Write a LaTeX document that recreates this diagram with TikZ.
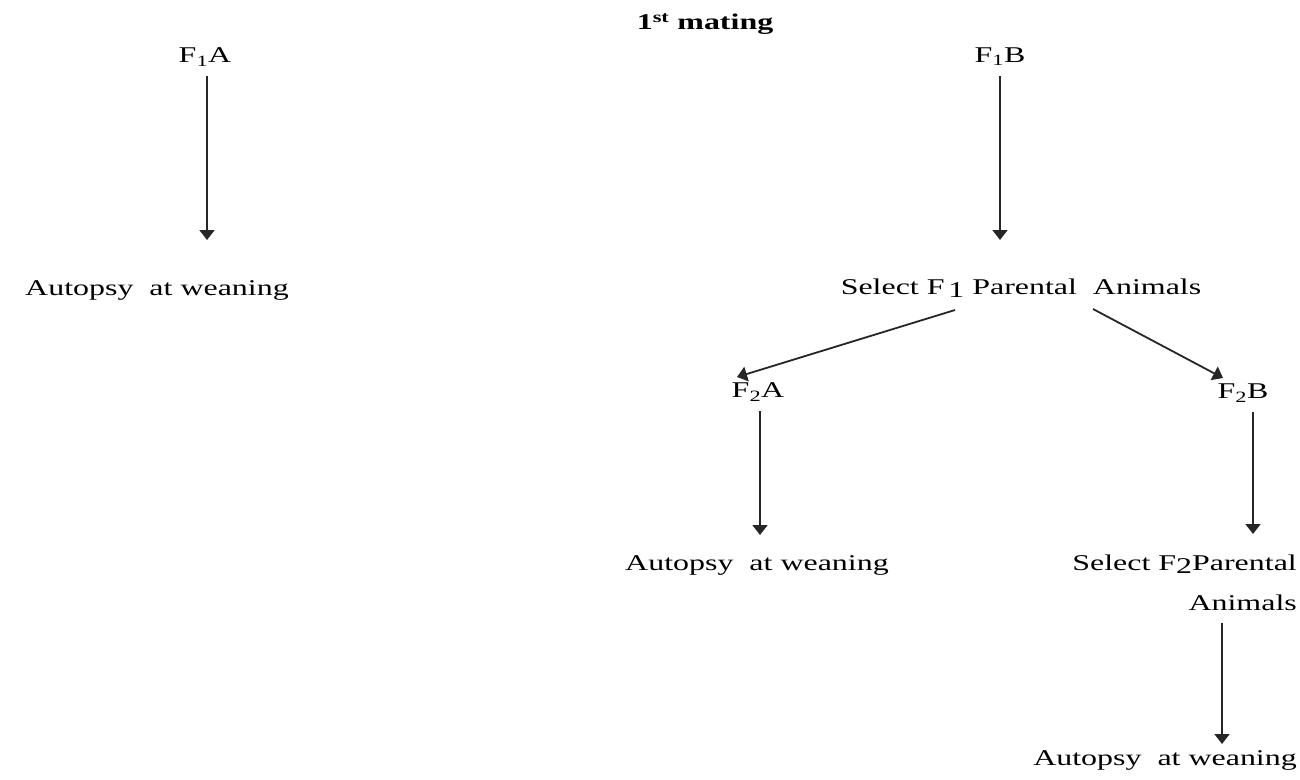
\documentclass[tikz,border=0pt]{standalone}
\usepackage{fontspec}
\setmainfont[FakeStretch=1.42]{Liberation Serif}
\usetikzlibrary{arrows.meta}
\begin{document}
\begin{tikzpicture}[x=1pt,y=-1pt,
  every node/.style={inner sep=0pt,font=\fontsize{22.5}{26}\selectfont},
  arr/.style={line width=1.8pt,draw=black!85,-{Triangle[length=10pt,width=15pt]}}]
\useasboundingbox (0,0) rectangle (1300,779);
\node[font=\fontsize{22.5}{26}\selectfont\bfseries] (mating) at (705,24) {1\textsuperscript{st} mating};
\node (f1a) at (205,57) {F\textsubscript{1}A};
\node (f1b) at (1000,57) {F\textsubscript{1}B};
\node (aw1) at (157,290) {Autopsy\ \ at weaning};
\node (sel1) at (1021,288) {Select F\,\raisebox{-0.35ex}{1} Parental\ \ Animals};
\node (f2a) at (758,392) {F\textsubscript{2}A};
\node (f2b) at (1243,393) {F\textsubscript{2}B};
\node (aw2) at (757,565) {Autopsy\ \ at weaning};
\node[anchor=east] (sel2) at (1297,564) {Select F\raisebox{-0.35ex}{2}Parental};
\node[anchor=east] (anim) at (1297,603) {Animals};
\node[anchor=east] (aw3) at (1297,760) {Autopsy\ \ at weaning};
\coordinate (e1) at (207,240);
\coordinate (e2) at (1000,240);
\coordinate (s3) at (955,310);
\coordinate (e3) at (737,377);
\coordinate (s4) at (1093,309);
\coordinate (e4) at (1223,378);
\coordinate (e5) at (760,535);
\coordinate (e6) at (1253,534);
\coordinate (e7) at (1222,744);
\draw[arr] (f1a.south -| e1) ++(0,10) -- (e1);
\draw[arr] (f1b.south -| e2) ++(0,10) -- (e2);
\draw[arr] (s3) -- (e3);
\draw[arr] (s4) -- (e4);
\draw[arr] (f2a.south -| e5) ++(0,10) -- (e5);
\draw[arr] (f2b.south -| e6) ++(0,10) -- (e6);
\draw[arr] (anim.south -| e7) ++(0,12) -- (e7);
\end{tikzpicture}
\end{document}
